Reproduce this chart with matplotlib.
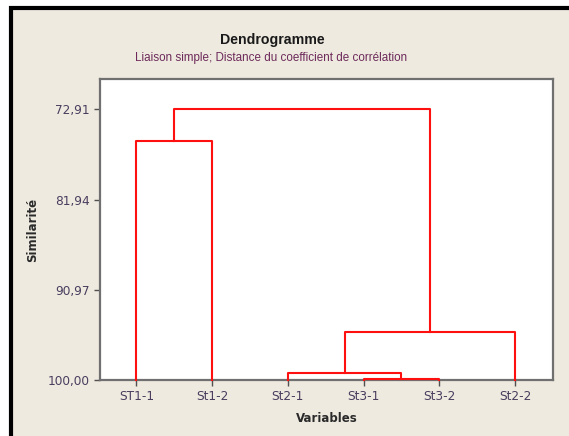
import matplotlib.pyplot as plt
from matplotlib.patches import Rectangle

labels = ['ST1-1', 'St1-2', 'St2-1', 'St3-1', 'St3-2', 'St2-2']
# merges: (cluster a, cluster b, similarity) ; new cluster ids start at len(labels)
merge_a = [3, 2, 7, 0, 9]
merge_b = [4, 6, 5, 1, 8]
merge_sim = [99.85, 99.25, 95.18, 76.05, 72.91]
yticks = [100.00, 90.97, 81.94, 72.91]

fig = plt.figure(figsize=(5.69, 4.36), dpi=100)
fig.patch.set_facecolor('white')

# beige panel with black frame (cut at right and bottom)
W, H = 569, 436
fig.add_artist(Rectangle((11 / W, -0.05), 1.0, 1.05 - 8.5 / H,
                         transform=fig.transFigure, facecolor='#EEEAE0',
                         edgecolor='black', linewidth=3, zorder=0))

ax = fig.add_axes([100 / W, 1 - 380 / H, 453 / W, 301 / H])
ax.set_facecolor('white')

# positions of leaves and clusters
xs = [i + 1 for i in range(len(labels))]
ys = [100.0] * len(labels)
for a, b, h in zip(merge_a, merge_b, merge_sim):
    ax.plot([xs[a], xs[a], xs[b], xs[b]], [ys[a], h, h, ys[b]],
            color='#FF1010', linewidth=1.5, clip_on=False, zorder=3)
    xs.append((xs[a] + xs[b]) / 2)
    ys.append(h)

ax.set_xlim(0.52, 6.5)
ax.set_ylim(100, 69.88)
ax.set_xticks(range(1, len(labels) + 1))
ax.set_xticklabels(labels)
ax.set_yticks(yticks)
ax.set_yticklabels([f'{v:.2f}'.replace('.', ',') for v in yticks])

for s in ax.spines.values():
    s.set_color('#707070')
    s.set_linewidth(1.6)
ax.tick_params(colors='#505050', labelcolor='#4A3D5E', labelsize=8.7,
               length=4, width=1)

fig.text(0.478, 1 - 40 / H, 'Dendrogramme', ha='center', va='center',
         fontsize=10.2, fontweight='bold', color='#1a1a1a', family='Liberation Sans')
fig.text(0.477, 1 - 58 / H, 'Liaison simple; Distance du coefficient de corrélation',
         ha='center', va='center', fontsize=8.4, color='#6E2A5A', family='Liberation Sans')
ax.set_xlabel('Variables', fontsize=8.5, fontweight='bold', color='#2a2a2a', labelpad=6)
ax.set_ylabel('Similarité', fontsize=8.5, fontweight='bold', color='#2a2a2a', labelpad=6)

fig.savefig('out.png', dpi=100)
